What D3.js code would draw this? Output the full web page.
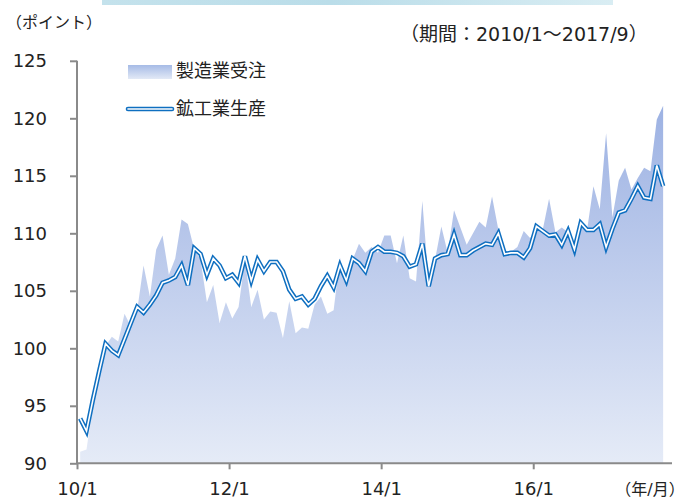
<!DOCTYPE html>
<html>
<head>
<meta charset="utf-8">
<script src="https://cdn.jsdelivr.net/npm/d3@7"></script>
<style>
body { margin: 0; background: #fff; }
svg { display: block; }
text { font-family: "DejaVu Sans", "Noto Sans CJK JP", sans-serif; fill: #222; }
</style>
</head>
<body>
<div id="d3"></div>
<script>
// 2010/1 - 2017/9, one value per month
var production = [
	93.9, 92.8, 95.5, 98.0, 100.4, 99.8, 99.4, 100.8, 102.2, 103.6, 103.1, 103.8,
	104.6, 105.7, 105.9, 106.2, 107.2, 105.5, 108.7, 108.2, 106.4, 107.8, 107.2, 106.1,
	106.4, 105.7, 108.0, 105.9, 107.7, 106.7, 107.5, 107.5, 106.7, 105.1, 104.3, 104.5,
	103.8, 104.3, 105.4, 106.3, 105.3, 107.2, 105.9, 107.8, 107.4, 106.7, 108.4, 108.8,
	108.4, 108.4, 108.3, 108.0, 107.1, 107.3, 109.1, 105.4, 107.8, 108.1, 108.2, 109.9,
	108.1, 108.1, 108.5, 108.8, 109.1, 109.0, 110.0, 108.2, 108.3, 108.3, 107.9, 108.7,
	110.6, 110.2, 109.8, 109.9, 109.0, 110.2, 108.6, 110.9, 110.3, 110.3, 110.8, 108.8,
	110.4, 111.8, 112.0, 113.0, 114.1, 113.1, 113.0, 115.9, 114.1
];
var orders = [
	91.0, 91.2, 95.0, 97.6, 100.2, 101.0, 100.6, 103.0, 101.9, 103.3, 107.2, 104.5,
	108.6, 109.8, 106.4, 107.8, 111.2, 110.8, 108.6, 107.7, 104.0, 105.5, 102.2, 104.0,
	102.6, 103.6, 107.7, 103.6, 105.1, 102.5, 103.2, 103.1, 100.9, 104.1, 101.3, 101.8,
	101.7, 103.8, 104.5, 103.0, 103.3, 107.9, 105.5, 107.7, 109.1, 108.3, 108.8, 108.3,
	109.8, 109.8, 107.4, 109.8, 106.1, 105.8, 112.8, 105.7, 107.7, 110.6, 108.3, 112.0,
	110.5, 109.0, 110.0, 111.0, 110.5, 113.2, 110.3, 108.4, 108.4, 108.8, 110.2, 109.6,
	110.3, 110.3, 113.0, 110.1, 110.5, 110.1, 108.9, 110.6, 110.3, 114.1, 112.1, 118.7,
	111.4, 114.6, 115.7, 113.8, 114.8, 115.7, 115.4, 119.9, 121.1
];
var xTickIndex = [0, 24, 48, 72];
var xTickLabels = ["10/1", "12/1", "14/1", "16/1"];
var yTicks = [90, 95, 100, 105, 110, 115, 120, 125];
var seriesNames = ["製造業受注", "鉱工業生産"];

var width = 694, height = 501;
var lineColor = "#0f6fc0";
var axisColor = "#8a8a8a";

var svg = d3.select("#d3").append("svg")
	.attr("width", width)
	.attr("height", height);

var defs = svg.append("defs");

// x: months are centred between the tick marks
var x = d3.scaleLinear().domain([0, 93.9]).range([77, 672]);
var y = d3.scaleLinear().domain([90, 125]).range([463.3, 60.8]);

var areaGrad = defs.append("linearGradient")
	.attr("id", "areaGrad")
	.attr("gradientUnits", "userSpaceOnUse")
	.attr("x1", 0).attr("x2", 0)
	.attr("y1", y(121)).attr("y2", y(90));
areaGrad.append("stop").attr("offset", "0%").attr("stop-color", "#9db2e3");
areaGrad.append("stop").attr("offset", "100%").attr("stop-color", "#e5ebf7");

var keyGrad = defs.append("linearGradient")
	.attr("id", "keyGrad")
	.attr("x1", 0).attr("x2", 0).attr("y1", 0).attr("y2", 1);
keyGrad.append("stop").attr("offset", "0%").attr("stop-color", "#a6bbe6");
keyGrad.append("stop").attr("offset", "100%").attr("stop-color", "#e2e9f6");

var bannerGrad = defs.append("linearGradient")
	.attr("id", "bannerGrad")
	.attr("x1", 0).attr("x2", 1).attr("y1", 0).attr("y2", 0);
bannerGrad.append("stop").attr("offset", "0%").attr("stop-color", "#c4e2ec");
bannerGrad.append("stop").attr("offset", "45%").attr("stop-color", "#badde9");
bannerGrad.append("stop").attr("offset", "100%").attr("stop-color", "#d9edf3");

// strip of the title box above the chart
svg.append("rect")
	.attr("x", 102).attr("y", -4)
	.attr("width", 511).attr("height", 9)
	.style("fill", "url(#bannerGrad)");

// orders area
var area = d3.area()
	.x(function(d, i){ return x(i + 0.5); })
	.y0(y(90))
	.y1(function(d){ return y(d); });

svg.append("path")
	.datum(orders)
	.attr("d", area)
	.style("fill", "url(#areaGrad)");

// axes
var yAxis = d3.axisLeft(y)
	.tickValues(yTicks)
	.tickSize(7)
	.tickPadding(23)
	.tickFormat(d3.format("d"));

var gy = svg.append("g")
	.attr("transform", "translate(77,0)")
	.call(yAxis);

var xAxis = d3.axisBottom(x)
	.tickValues(xTickIndex)
	.tickSize(6)
	.tickPadding(13)
	.tickFormat(function(d, i){ return xTickLabels[i]; });

var gx = svg.append("g")
	.attr("transform", "translate(0," + y(90) + ")")
	.call(xAxis);

[gx, gy].forEach(function(g){
	g.select(".domain").attr("stroke", axisColor).attr("stroke-width", 2);
	g.selectAll(".tick line").attr("stroke", axisColor).attr("stroke-width", 2);
	g.selectAll(".tick text")
		.style("font-size", "18px")
		.style("fill", "#222");
});
gy.select(".domain").attr("d", "M0," + y(125) + "V" + y(90));
gx.select(".domain").attr("d", "M77,0H672");
gy.selectAll(".tick text").attr("dy", "0.33em");
gx.selectAll(".tick text").attr("dy", "0.71em");

// production line, drawn twice for the hollow look
var line = d3.line()
	.x(function(d, i){ return x(i + 0.5); })
	.y(function(d){ return y(d); });

svg.append("path")
	.datum(production)
	.attr("d", line)
	.attr("fill", "none")
	.attr("stroke", lineColor)
	.attr("stroke-width", 4.6)
	.attr("stroke-linejoin", "miter");

svg.append("path")
	.datum(production)
	.attr("d", line)
	.attr("fill", "none")
	.attr("stroke", "#fff")
	.attr("stroke-width", 1.6);

// legend
svg.append("rect")
	.attr("x", 128).attr("y", 65)
	.attr("width", 44).attr("height", 14)
	.style("fill", "url(#keyGrad)");

svg.append("line")
	.attr("x1", 128).attr("x2", 172)
	.attr("y1", 109).attr("y2", 109)
	.attr("stroke", lineColor)
	.attr("stroke-width", 4.6)
	.attr("stroke-linecap", "round");
svg.append("line")
	.attr("x1", 128).attr("x2", 172)
	.attr("y1", 109).attr("y2", 109)
	.attr("stroke", "#fff")
	.attr("stroke-width", 1.6)
	.attr("stroke-linecap", "round");

svg.selectAll(".legendText")
	.data(seriesNames)
	.enter().append("text")
	.attr("class", "legendText")
	.attr("x", 176)
	.attr("y", function(d, i){ return i === 0 ? 77 : 115; })
	.style("font-size", "18px")
	.text(function(d){ return d; });

// notes
svg.append("text")
	.attr("x", 6).attr("y", 28)
	.style("font-size", "16px")
	.text("（ポイント）");

svg.append("text")
	.attr("x", 400).attr("y", 41)
	.style("font-size", "19px")
	.text("（期間：2010/1～2017/9）");

svg.append("text")
	.attr("x", 650).attr("y", 495)
	.attr("text-anchor", "middle")
	.style("font-size", "16px")
	.text("（年/月）");
</script>
</body>
</html>
